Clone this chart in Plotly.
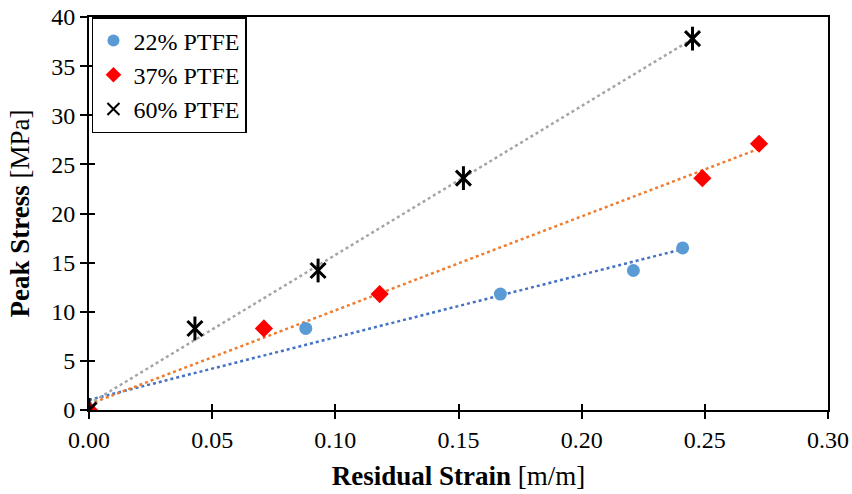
import numpy as np
import plotly.graph_objects as go

# Data
strain_22 = [0.0, 0.088, 0.167, 0.221, 0.241]
stress_22 = [0.0, 8.3, 11.8, 14.2, 16.5]
strain_37 = [0.0, 0.071, 0.118, 0.249, 0.272]
stress_37 = [0.0, 8.3, 11.8, 23.6, 27.1]
strain_60 = [0.0, 0.043, 0.093, 0.152, 0.245]
stress_60 = [0.0, 8.3, 14.2, 23.6, 37.8]
x_ticks = [0.0, 0.05, 0.10, 0.15, 0.20, 0.25, 0.30]
y_ticks = [0, 5, 10, 15, 20, 25, 30, 35, 40]

FONT = "Liberation Serif"
fig = go.Figure()

def trend(xs, ys, color):
    p = np.polyfit(xs, ys, 1)
    xx = np.array([0.0, max(xs)])
    fig.add_trace(go.Scatter(x=xx, y=np.polyval(p, xx), mode="lines",
                             line=dict(color=color, width=2.5, dash="dot"),
                             showlegend=False, hoverinfo="skip"))

trend(strain_22, stress_22, "#4472C4")
trend(strain_37, stress_37, "#ED7D31")
trend(strain_60, stress_60, "#A5A5A5")

fig.add_trace(go.Scatter(x=strain_22, y=stress_22, mode="markers", name="22% PTFE",
                         marker=dict(symbol="circle", size=13, color="#5B9BD5")))
fig.add_trace(go.Scatter(x=strain_37, y=stress_37, mode="markers", name="37% PTFE",
                         marker=dict(symbol="diamond", size=14, color="#FF0000")))
fig.add_trace(go.Scatter(x=strain_60, y=stress_60, mode="markers", name="60% PTFE",
                         marker=dict(symbol="x-thin-open", size=15, color="black",
                                     line=dict(width=3, color="black"))))
fig.add_trace(go.Scatter(x=strain_60, y=stress_60, mode="markers", showlegend=False,
                         marker=dict(symbol="line-ns-open", size=17, color="black",
                                     line=dict(width=3, color="black"))))

axis_common = dict(showgrid=False, zeroline=False, showline=True, linecolor="black",
                   linewidth=2, mirror=True, ticks="outside", ticklen=7, tickwidth=1.5,
                   tickcolor="black", automargin=False,
                   tickfont=dict(family=FONT, size=24, color="black"))

fig.update_layout(
    width=852, height=494,
    margin=dict(l=89, r=24, t=17, b=84),
    paper_bgcolor="white", plot_bgcolor="white",
    font=dict(family=FONT, color="black"),
    xaxis=dict(range=[0, 0.30], tickvals=x_ticks, ticktext=[f"{v:.2f}" for v in x_ticks],
               title=dict(text="<b>Residual Strain</b> [m/m]", font=dict(family=FONT, size=27), standoff=14),
               **axis_common),
    yaxis=dict(range=[0, 40], tickvals=y_ticks,
               title=dict(text="<b>Peak Stress</b> [MPa]", font=dict(family=FONT, size=27), standoff=14),
               **axis_common),
    xaxis2=dict(overlaying="x", range=[0, 0.30], tickvals=x_ticks, ticks="inside", ticklen=6,
                tickwidth=1.5, tickcolor="black", showticklabels=False, showgrid=False,
                zeroline=False, side="bottom", anchor="y"),
    yaxis2=dict(overlaying="y", range=[0, 40], tickvals=y_ticks, ticks="inside", ticklen=6,
                tickwidth=1.5, tickcolor="black", showticklabels=False, showgrid=False,
                zeroline=False, side="left", anchor="x"),
    legend=dict(x=0.004, y=1.0, xanchor="left", yanchor="top", bgcolor="white",
                bordercolor="black", borderwidth=1.5, font=dict(family=FONT, size=24),
                itemsizing="constant", tracegroupgap=0, itemwidth=30),
)
# dummy trace to activate overlay axes
fig.add_trace(go.Scatter(x=[None], y=[None], xaxis="x2", yaxis="y2", showlegend=False))

fig.write_html("out.html")
